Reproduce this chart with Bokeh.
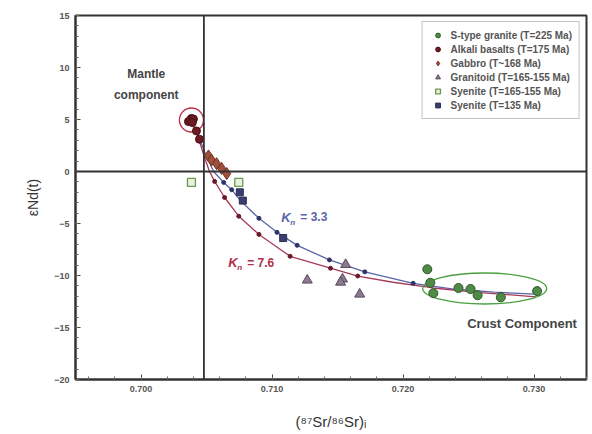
from bokeh.plotting import figure
from bokeh.models import Span, Legend, LegendItem, FixedTicker, NumeralTickFormatter, Range1d
from bokeh.core.properties import value
from bokeh.embed import file_html
from bokeh.resources import INLINE

# ---- data ----
s_granite_x = [0.72185, 0.72208, 0.72231, 0.72423, 0.72515, 0.72569, 0.72746, 0.73023]
s_granite_y = [-9.4, -10.7, -11.7, -11.2, -11.3, -11.9, -12.1, -11.5]

alkali_x = [0.70362, 0.70385, 0.70377, 0.70400, 0.70392, 0.70423, 0.70446]
alkali_y = [4.8, 5.1, 4.95, 5.05, 4.7, 3.9, 3.1]

gabbro_x = [0.70515, 0.70538, 0.70577, 0.70615, 0.70654]
gabbro_y = [1.5, 1.1, 0.75, 0.3, -0.2]

granitoid_x = [0.71269, 0.71538, 0.71562, 0.71523, 0.71669]
granitoid_y = [-10.45, -10.35, -8.95, -10.65, -11.8]

syenite1_x = [0.70385, 0.70746]
syenite1_y = [-1.05, -1.05]

syenite2_x = [0.70754, 0.70777, 0.71085]
syenite2_y = [-2.0, -2.8, -6.4]

# mixing curve Kn = 3.3 (upper)
curve33_x = [0.70380, 0.70431, 0.70485, 0.70554, 0.70631, 0.70692, 0.70762, 0.70900,
             0.71038, 0.71192, 0.71438, 0.71708, 0.72077, 0.72385, 0.72692, 0.73000]
curve33_y = [4.9, 3.7, 1.9, 0.0, -1.05, -1.75, -2.85, -4.5,
             -5.85, -7.1, -8.5, -9.65, -10.75, -11.3, -11.6, -11.8]
dots33_x = [0.70631, 0.70692, 0.70900, 0.71038, 0.71192, 0.71438, 0.71708, 0.72077]
dots33_y = [-1.05, -1.75, -4.5, -5.85, -7.1, -8.5, -9.65, -10.75]

# mixing curve Kn = 7.6 (lower)
curve76_x = [0.70380, 0.70431, 0.70485, 0.70523, 0.70562, 0.70638, 0.70746, 0.70900,
             0.71138, 0.71446, 0.71654, 0.71923, 0.72231, 0.72538, 0.73015]
curve76_y = [4.9, 3.5, 1.35, 0.0, -0.95, -2.5, -4.3, -6.05,
             -8.15, -9.3, -10.05, -10.65, -11.2, -11.6, -12.05]
dots76_x = [0.70562, 0.70638, 0.70746, 0.70900, 0.71138, 0.71446, 0.71654, 0.72746]
dots76_y = [-0.95, -2.5, -4.3, -6.05, -8.15, -9.3, -10.05, -11.85]

x_ticks = [0.700, 0.710, 0.720, 0.730]
y_ticks = [-20, -15, -10, -5, 0, 5, 10, 15]

legend_labels = ["S-type granite (T=225 Ma)", "Alkali basalts (T=175 Ma)",
                 "Gabbro (T~168 Ma)", "Granitoid (T=165-155 Ma)",
                 "Syenite (T=165-155 Ma)", "Syenite (T=135 Ma)"]

# ---- figure ----
FONT = "Liberation Sans"
p = figure(width=592, height=434, output_backend="svg", toolbar_location=None,
           x_range=Range1d(0.695, 0.734), y_range=Range1d(-20, 15),
           min_border_left=75, min_border_right=6, min_border_top=15, min_border_bottom=55)
p.xgrid.visible = False
p.ygrid.visible = False
p.outline_line_color = "#333333"
p.outline_line_width = 2
p.background_fill_color = "white"

for ax in (p.xaxis[0], p.yaxis[0]):
    ax.axis_line_width = 2
    ax.axis_line_color = "#333333"
    ax.major_tick_in = 5
    ax.major_tick_out = 0
    ax.minor_tick_in = 3
    ax.minor_tick_out = 0
    ax.major_tick_line_color = "#444444"
    ax.minor_tick_line_color = "#666666"
    ax.major_label_text_font = FONT
    ax.major_label_text_font_size = "9px"
    ax.major_label_text_font_style = "bold"
    ax.major_label_text_color = "#555555"
    ax.axis_label_text_font = FONT
    ax.axis_label_text_font_style = "normal"
    ax.axis_label_text_color = "#333333"

p.xaxis.ticker = FixedTicker(ticks=x_ticks,
                             minor_ticks=[0.696 + 0.002 * i for i in range(20)])
p.xaxis.formatter = NumeralTickFormatter(format="0.000")
p.yaxis.ticker = FixedTicker(ticks=y_ticks, minor_ticks=list(range(-20, 16)))
p.xaxis.axis_label = "(⁸⁷Sr/⁸⁶Sr)ᵢ"
p.xaxis.axis_label_text_font_size = "15px"
p.xaxis.axis_label_standoff = 18
p.yaxis.axis_label = "εNd(t)"
p.yaxis.axis_label_text_font_size = "14px"
p.yaxis.axis_label_standoff = 10
p.xaxis.major_label_standoff = 6
p.yaxis.major_label_standoff = 6

# reference lines
p.add_layout(Span(location=0.7048, dimension="height", line_color="#333333", line_width=1.8))
p.add_layout(Span(location=0, dimension="width", line_color="#333333", line_width=1.8))

# mixing curves
p.line(curve33_x, curve33_y, line_color="#5a64a8", line_width=1.3)
p.line(curve76_x, curve76_y, line_color="#a83a5a", line_width=1.3)
p.scatter(dots33_x, dots33_y, size=4, color="#2e3466")
p.scatter(dots76_x, dots76_y, size=4, color="#6a1a2a")

# circles around end-members
p.ellipse(x=[0.70385], y=[4.95], width=24, height=24, width_units="screen",
          height_units="screen", fill_color=None, line_color="#c0304a", line_width=1.3)
p.ellipse(x=[0.72623], y=[-11.25], width=124, height=31, width_units="screen",
          height_units="screen", fill_color=None, line_color="#4aa040", line_width=1.3)

r1 = p.scatter(s_granite_x, s_granite_y, marker="circle", size=9,
               fill_color="#4f8a46", line_color="#2f5a2a")
r2 = p.scatter(alkali_x, alkali_y, marker="circle", size=8,
               fill_color="#6e1a22", line_color="#4a1016")
r3 = p.scatter(gabbro_x, gabbro_y, marker="diamond", size=12,
               fill_color="#a0503a", line_color="#6e3020")
r4 = p.scatter(granitoid_x, granitoid_y, marker="triangle", size=10,
               fill_color="#8a7a8e", line_color="#5a4a60")
r5 = p.scatter(syenite1_x, syenite1_y, marker="square", size=8,
               fill_color="#e8f0e0", line_color="#6a9a50", line_width=1.3)
r6 = p.scatter(syenite2_x, syenite2_y, marker="square", size=7,
               fill_color="#3a3f70", line_color="#2a2e55")

legend = Legend(items=[LegendItem(label=l, renderers=[r]) for l, r in
                       zip(legend_labels, [r1, r2, r3, r4, r5, r6])],
                location="top_right")
legend.label_text_font = FONT
legend.label_text_font_size = "10px"
legend.label_text_font_style = "bold"
legend.label_text_color = "#555555"
legend.glyph_width = 16
legend.glyph_height = 12
legend.label_height = 12
legend.spacing = 2
legend.padding = 7
legend.margin = 6
legend.border_line_color = "#888888"
legend.border_line_width = 1.5
p.add_layout(legend)

# annotations
bold = dict(text_font=value(FONT), text_font_style="bold", text_color="#444444",
            text_align="center", text_baseline="middle")
p.text(x=[0.7004], y=[9.4], text=["Mantle"], text_font_size="12px", **bold)
p.text(x=[0.7004], y=[7.4], text=["component"], text_font_size="12px", **bold)
p.text(x=[0.72908], y=[-14.6], text=["Crust Component"], text_font_size="13px", **bold)

for (kx, ky, txt, col) in [(0.71071, -4.4, "= 3.3", "#5a64a8"),
                            (0.70665, -8.75, "= 7.6", "#b03048")]:
    p.text(x=[kx], y=[ky], text=["K"], text_font=value(FONT), text_font_style="bold italic",
           text_font_size="13px", text_color=col, text_baseline="middle")
    p.text(x=[kx], y=[ky], text=["n"], text_font=value(FONT), text_font_style="bold italic",
           text_font_size="8px", text_color=col, text_baseline="middle",
           x_offset=9, y_offset=5)
    p.text(x=[kx], y=[ky], text=[txt], text_font=value(FONT), text_font_style="bold",
           text_font_size="12px", text_color=col, text_baseline="middle", x_offset=19)

open("out.html", "w").write(file_html(p, INLINE))
